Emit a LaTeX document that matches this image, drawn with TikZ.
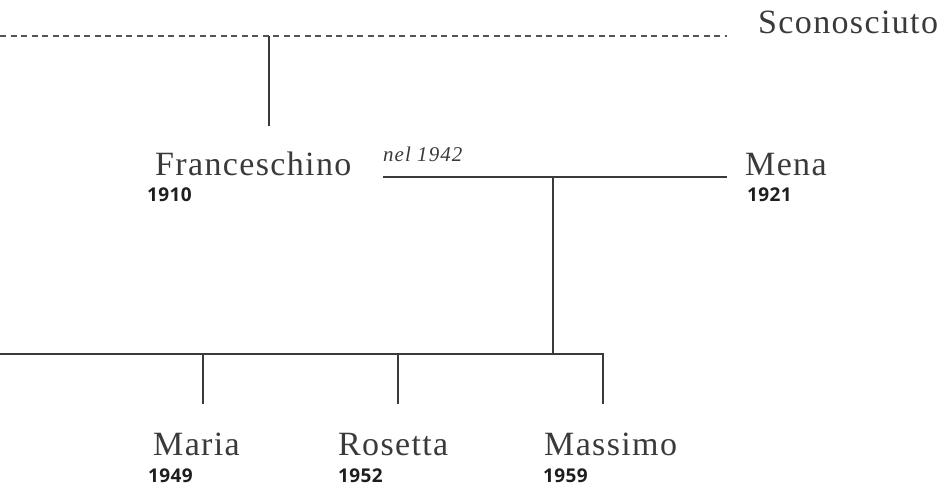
\documentclass[tikz,border=0pt]{standalone}
\usepackage{fontspec}
\setmainfont{Liberation Serif}
\newfontfamily\namefont[LetterSpace=4]{Liberation Serif}
\newfontfamily\notefont[LetterSpace=5]{Liberation Serif}
\newfontfamily\yearfont[LetterSpace=2]{Open Sans}
\definecolor{namecol}{HTML}{3A3A3A}
\definecolor{yearcol}{HTML}{1E1E1E}
\definecolor{linecol}{HTML}{3A3A3A}
\definecolor{dashcol}{HTML}{555555}
\begin{document}
\begin{tikzpicture}[x=1pt,y=-1pt,
  person/.style={anchor=base west, inner sep=0pt, font=\namefont\fontsize{34}{34}\selectfont, text=namecol},
  yearlbl/.style={anchor=base west, inner sep=0pt, font=\yearfont\bfseries\fontsize{19}{19}\selectfont, text=yearcol},
  notelbl/.style={anchor=base west, inner sep=0pt, font=\notefont\itshape\fontsize{21}{21}\selectfont, text=namecol},
  link/.style={draw=linecol, line width=1.1pt},
  unknownlink/.style={draw=dashcol, line width=1.1pt, dash pattern=on 6pt off 4.5pt}]
\useasboundingbox (0,0) rectangle (944,486);

% people
\node[person] (sconosciuto) at (758,34) {Sconosciuto};
\node[person] (franceschino) at (155,176) {Franceschino};
\node[yearlbl] (y1910) at (147,202) {1910};
\node[person] (mena) at (745,176) {Mena};
\node[yearlbl] (y1921) at (747,202) {1921};
\node[notelbl] (nel) at (383,162) {nel 1942};
\node[person] (maria) at (153,455) {Maria};
\node[yearlbl] (y1949) at (148,482) {1949};
\node[person] (rosetta) at (338,455) {Rosetta};
\node[yearlbl] (y1952) at (338,482) {1952};
\node[person] (massimo) at (544,455) {Massimo};
\node[yearlbl] (y1959) at (543,482) {1959};

% junction coordinates
\coordinate (dl) at (0,36);
\coordinate (dr) at (727,36);
\coordinate (fup) at (269,36);
\coordinate (fdown) at (269,126);
\coordinate (ml) at (383,177);
\coordinate (mr) at (727,177);
\coordinate (mj) at (553,177);
\coordinate (cj) at (553,354);
\coordinate (cl) at (0,354);
\coordinate (cr) at (603,354);
\coordinate (c1t) at (203,354);
\coordinate (c1b) at (203,404);
\coordinate (c2t) at (398,354);
\coordinate (c2b) at (398,404);
\coordinate (c3b) at (603,404);

% connectors
\draw[unknownlink] (dl) -- (dr);
\draw[link] (fup) -- (fdown);
\draw[link] (ml) -- (mr);
\draw[link] (mj) -- (cj);
\draw[link] (cl) -- (cr) -- (c3b);
\draw[link] (c1t) -- (c1b);
\draw[link] (c2t) -- (c2b);
\end{tikzpicture}
\end{document}
